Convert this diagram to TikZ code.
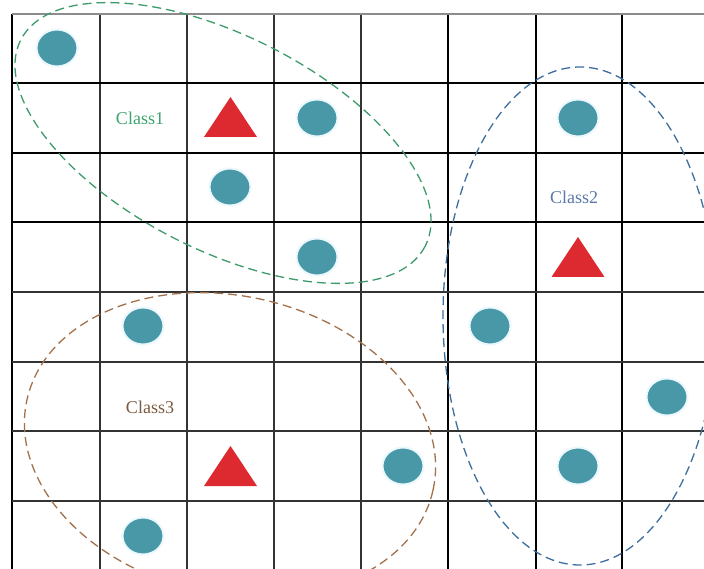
\documentclass[tikz,border=0pt]{standalone}
\usepackage{fontspec}
\setmainfont{Liberation Serif}
\usepackage{xcolor}
\usetikzlibrary{shapes.geometric}
\definecolor{dotteal}{HTML}{4898A8}
\definecolor{trired}{HTML}{DC2A30}
\definecolor{hullgreen}{HTML}{3D9B6B}
\definecolor{hullblue}{HTML}{3C6E9E}
\definecolor{hullbrown}{HTML}{A3724C}
\definecolor{txtgreen}{HTML}{3EA36E}
\definecolor{txtblue}{HTML}{5B78A8}
\definecolor{txtbrown}{HTML}{7A5A40}

\begin{document}
\begin{tikzpicture}[x=1pt, y=-1pt,
  dot/.style={ellipse, fill=dotteal, draw=cyan!8, line width=2pt,
    minimum width=41pt, minimum height=37pt, inner sep=0pt},
  tri/.style={fill=trired},
  thingrid/.style={line width=1.1pt, black!80},
  thickgrid/.style={line width=1.8pt, black},
  hull/.style={line width=1.3pt, dash pattern=on 9pt off 5pt},
  lbl/.style={font=\fontsize{18}{20}\selectfont, inner sep=0pt}
]
\useasboundingbox (0,0) rectangle (704,569);
\fill[white] (0,0) rectangle (704,569);
\clip (0,0) rectangle (704,569);

% grid
\foreach \x in {100,187,274,361}
  \draw[thingrid] (\x,14) -- (\x,569);
\foreach \x in {12,448,536,622}
  \draw[thickgrid] (\x,14) -- (\x,569);
\foreach \y in {292,362,431,501}
  \draw[thingrid] (12,\y) -- (704,\y);
\foreach \y in {83,153,222}
  \draw[thickgrid] (12,\y) -- (704,\y);
\draw[line width=1.1pt, black!45] (12,14) -- (704,14);

% class hulls
\coordinate (g) at (223,143);
\coordinate (b) at (580,316);
\coordinate (r) at (230,445);
\draw[hull, hullgreen, rotate around={-27:(g)}] (g) ellipse [x radius=227, y radius=107];
\draw[hull, hullblue] (b) ellipse [x radius=137, y radius=249];
\draw[hull, hullbrown, rotate around={-12.6:(r)}] (r) ellipse [x radius=208, y radius=149];

% samples
\foreach \n/\p in {a/{57,48}, b/{317,118}, c/{578,118}, d/{230,187}, e/{317,257},
    f/{143,326}, g/{490,326}, h/{667,397}, i/{403,466}, j/{578,466}, k/{143,536}}
  \node[dot] (s\n) at (\p) {};

\coordinate (t1) at (230.5,117);
\coordinate (t2) at (578,257);
\coordinate (t3) at (230.5,466);
\foreach \t in {t1,t2,t3}
  \fill[tri] (\t) ++(-26.5,20) -- ++(53,0) -- ++(-26.5,-40) -- cycle;

\node[lbl, txtgreen] (c1) at (140,118) {Class1};
\node[lbl, txtblue] (c2) at (574,197) {Class2};
\node[lbl, txtbrown] (c3) at (150,407) {Class3};
\end{tikzpicture}
\end{document}
